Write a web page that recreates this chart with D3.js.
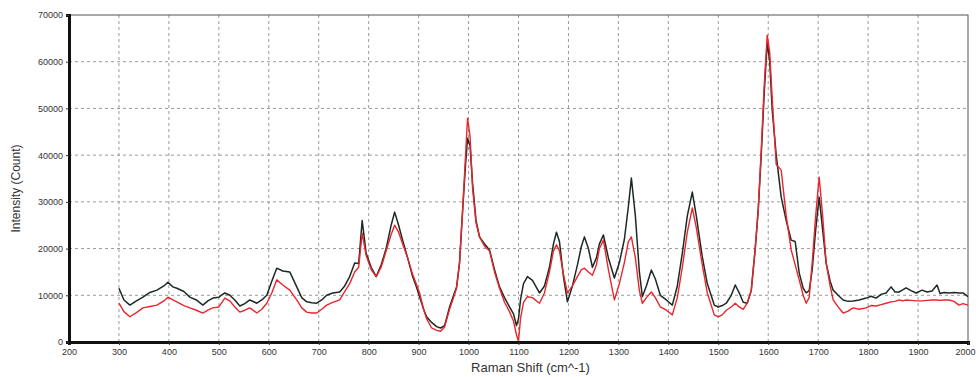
<!DOCTYPE html>
<html>
<head>
<meta charset="utf-8">
<script src="https://cdn.jsdelivr.net/npm/d3@7"></script>
<style>
  body { margin: 0; background: #fff; }
  svg { display: block; font-family: "Liberation Sans", Arial, sans-serif; }
</style>
</head>
<body>
<svg id="chart" width="976" height="377"></svg>
<script>
// Raman shift (cm^-1) sample positions shared by both spectra
const ramanShift = [
  300, 310, 322, 335, 348, 362, 376, 390, 398, 408,
  416, 430, 442, 455, 468, 478, 488, 500, 512, 522,
  532, 542, 552, 562, 576, 586, 596, 606, 616, 628,
  642, 656, 666, 676, 686, 696, 706, 716, 728, 742,
  752, 762, 772, 780, 787, 795, 805, 815, 825, 835,
  845, 852, 860, 868, 878, 888, 895, 902, 910, 916,
  926, 936, 944, 952, 962, 970, 976, 982, 988, 994,
  998, 1003, 1008, 1015, 1022, 1032, 1042, 1052, 1062, 1072,
  1082, 1090, 1096, 1100, 1104, 1110, 1118, 1128, 1142, 1152,
  1162, 1170, 1176, 1182, 1190, 1198, 1208, 1218, 1226, 1232,
  1240, 1248, 1256, 1262, 1270, 1280, 1292, 1302, 1312, 1320,
  1326, 1334, 1342, 1348, 1356, 1366, 1374, 1384, 1396, 1408,
  1418, 1428, 1438, 1448, 1456, 1468, 1478, 1492, 1500, 1508,
  1516, 1526, 1534, 1542, 1550, 1558, 1566, 1574, 1580, 1586,
  1592, 1598, 1603, 1608, 1616, 1626, 1636, 1646, 1654, 1662,
  1670, 1676, 1682, 1688, 1695, 1702, 1709, 1716, 1724, 1730,
  1740, 1750, 1760, 1770, 1782, 1796, 1806, 1816, 1826, 1836,
  1846, 1854, 1862, 1870, 1876, 1886, 1896, 1908, 1918, 1928,
  1938, 1944, 1952, 1962, 1972, 1982, 1990, 2000
];

const blackCounts = [
  11500, 9000, 7900, 8800, 9600, 10600, 11100, 12000, 12800, 11800,
  11500, 10800, 9600, 9000, 7900, 8800, 9400, 9600, 10500, 10000,
  9000, 7700, 8200, 9000, 8300, 9000, 10000, 13000, 15800, 15200,
  15000, 11800, 9500, 8600, 8400, 8300, 9000, 10000, 10500, 10700,
  12000, 14000, 16900, 16800, 26000, 19000, 16000, 14000, 16500, 20000,
  25000, 27800, 25000, 21800, 18000, 14000, 12000, 9700, 7000, 5400,
  4200, 3300, 3000, 3500, 7500, 10000, 11800, 17000, 28000, 38000,
  43600, 42000, 34000, 26000, 22500, 21000, 19700, 15500, 11800, 9500,
  7500, 6000, 3500, 5000, 9000, 12500, 14000, 13200, 10500, 12000,
  16000, 21000, 23500, 21500, 14000, 8600, 12000, 16500, 20500, 22500,
  20000, 16000, 18000, 21000, 22900, 18000, 13700, 17000, 22000, 29000,
  35100, 27000, 15000, 9700, 12000, 15400, 13500, 10000, 9000, 7900,
  12000, 19000, 27000, 32100, 27000, 18200, 12500, 7900, 7500, 7800,
  8300, 10000, 12200, 10500, 8500, 8300, 11000, 20000, 28300, 40000,
  53300, 64200, 60000, 49600, 40000, 31000, 26000, 21800, 21500, 14800,
  11500, 10500, 11000, 15400, 24000, 31000, 24000, 16900, 13000, 11100,
  10000, 9000, 8700, 8800, 9000, 9400, 9800, 9400, 10200, 10500,
  11800, 10700, 10700, 11200, 11600, 11000, 10500, 11100, 10700, 10900,
  12200, 10400, 10600, 10500, 10600, 10500, 10500, 9700
];

const redCounts = [
  8300, 6500, 5400, 6300, 7300, 7600, 7900, 8800, 9600, 9000,
  8600, 7800, 7300, 6800, 6200, 6800, 7300, 7500, 9400, 8800,
  7500, 6400, 6800, 7300, 6200, 7000, 8300, 10500, 13300, 12200,
  11100, 9000, 7300, 6400, 6200, 6200, 7000, 7900, 8500, 9000,
  10800, 12500, 15000, 16000, 23300, 18500, 15500, 14000, 16000, 19500,
  23000, 25000, 23500, 21000, 18000, 14500, 12500, 10500, 7000, 5000,
  3000, 2500, 2300, 3200, 7000, 9500, 11500, 17000, 28000, 40000,
  47900, 44000, 33000, 25500, 22500, 20500, 19500, 15000, 11500, 8500,
  6500, 4500, 1500, 200, 5000, 8500, 9700, 9500, 8300, 10500,
  15000, 19500, 20800, 19500, 14500, 10500, 12000, 14000, 15500, 15800,
  15000, 14300, 16500, 20000, 21800, 15500, 9000, 12500, 17000, 21500,
  22500, 18000, 11000, 8300, 9500, 10700, 9500, 7500, 6800, 5800,
  9500, 16000, 23500, 28700, 24500, 16500, 10500, 5800, 5400, 5800,
  6800, 7500, 8300, 7500, 7000, 8300, 11000, 20000, 28300, 41000,
  55000, 65700, 62000, 52000, 38000, 36800, 27000, 19700, 16500, 13300,
  10000, 8300, 9500, 16900, 27000, 35300, 27000, 16900, 12000, 9000,
  7500, 6200, 6600, 7300, 7000, 7300, 7800, 7700, 8000, 8300,
  8600, 8700, 9000, 8800, 9000, 8900, 8800, 8800, 8900, 9000,
  9000, 8900, 9000, 9000, 8700, 7900, 8200, 7900
];

const xTicks = d3.range(200, 2001, 100);
const yTicks = d3.range(0, 70001, 10000);

const margin = {top: 15, right: 8, bottom: 35, left: 69};
const W = 976, H = 377;
const w = W - margin.left - margin.right;
const h = H - margin.top - margin.bottom;

const svg = d3.select("#chart");
const g = svg.append("g").attr("transform", `translate(${margin.left},${margin.top})`);

const x = d3.scaleLinear().domain([200, 2000]).range([0, w]);
const y = d3.scaleLinear().domain([0, 70000]).range([h, 0]);

// grid
g.append("g").selectAll("line").data(xTicks.slice(1, -1)).join("line")
  .attr("x1", d => x(d)).attr("x2", d => x(d))
  .attr("y1", 0).attr("y2", h)
  .attr("stroke", "#9a9a9a").attr("stroke-width", 1).attr("stroke-dasharray", "3,3");
g.append("g").selectAll("line").data(yTicks.slice(1, -1)).join("line")
  .attr("x1", 0).attr("x2", w)
  .attr("y1", d => y(d)).attr("y2", d => y(d))
  .attr("stroke", "#9a9a9a").attr("stroke-width", 1).attr("stroke-dasharray", "3,3");

// frame top/right
g.append("rect").attr("x", 0).attr("y", 0).attr("width", w).attr("height", h)
  .attr("fill", "none").attr("stroke", "#555").attr("stroke-width", 1);

const line = d3.line().x((d, i) => x(ramanShift[i])).y(d => y(d));

g.append("path").datum(blackCounts).attr("d", line)
  .attr("fill", "none").attr("stroke", "#1d2a22").attr("stroke-width", 1.5)
  .attr("stroke-linejoin", "round");
g.append("path").datum(redCounts).attr("d", line)
  .attr("fill", "none").attr("stroke", "#e8262e").attr("stroke-width", 1.4)
  .attr("stroke-linejoin", "round");

// axes
const xAxis = g.append("g").attr("transform", `translate(0,${h})`)
  .call(d3.axisBottom(x).tickValues(xTicks).tickSize(3).tickPadding(4).tickFormat(d3.format("d")));
const yAxis = g.append("g")
  .call(d3.axisLeft(y).tickValues(yTicks).tickSize(3).tickPadding(3).tickFormat(d3.format("d")));
[xAxis, yAxis].forEach(a => {
  a.select(".domain").attr("stroke", "#111").attr("stroke-width", 3);
  a.selectAll(".tick line").attr("stroke", "#333");
  a.selectAll(".tick text").attr("fill", "#333").attr("font-size", 9)
    .attr("font-family", "'Liberation Sans', Arial, sans-serif");
});
// keep the last x label inside the page
xAxis.selectAll(".tick text").filter(d => d === 2000).attr("text-anchor", "end").attr("dx", 7);

svg.append("text")
  .attr("x", margin.left + w / 2 + 12).attr("y", 372)
  .attr("text-anchor", "middle").attr("font-size", 13).attr("fill", "#333")
  .text("Raman Shift (cm^-1)");
svg.append("text")
  .attr("transform", `translate(20,${margin.top + h / 2 + 10}) rotate(-90)`)
  .attr("text-anchor", "middle").attr("font-size", 12).attr("fill", "#333")
  .text("Intensity (Count)");
</script>
</body>
</html>
